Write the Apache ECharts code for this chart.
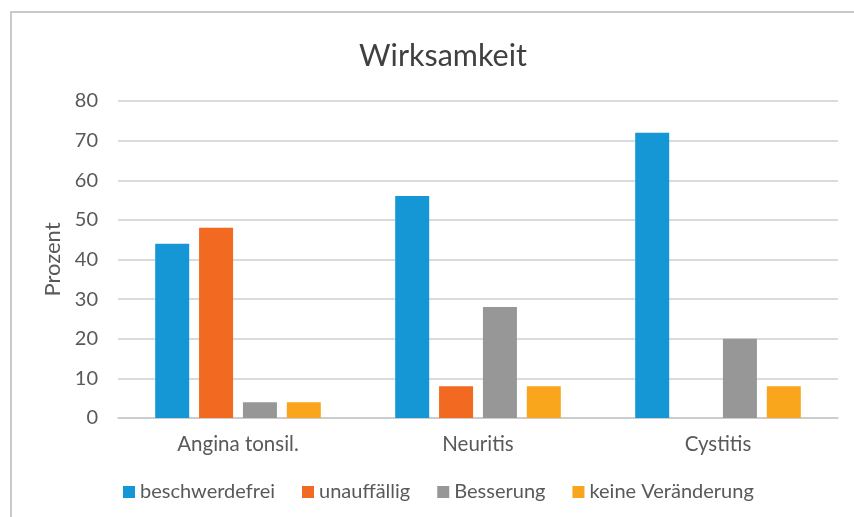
<!DOCTYPE html>
<html><head><meta charset="utf-8">
<script src="https://cdn.jsdelivr.net/npm/echarts@6/dist/echarts.min.js"></script>
<style>html,body{margin:0;padding:0;background:#fff}#c{width:854px;height:517px}</style>
</head><body><div id="c"></div>
<script>
const categories = ['Angina tonsil.', 'Neuritis', 'Cystitis'];
const seriesNames = ['beschwerdefrei', 'unauffällig', 'Besserung', 'keine Veränderung'];
const beschwerdefrei = [44, 56, 72];
const unauffaellig = [48, 8, 0];
const besserung = [4, 28, 20];
const keineVeraenderung = [4, 8, 8];
const colors = ['#1597d5', '#f26a22', '#979797', '#f9a61c'];
const values = [beschwerdefrei, unauffaellig, besserung, keineVeraenderung];
const font = 'Lato, "Open Sans", sans-serif';

const chart = echarts.init(document.getElementById('c'));
chart.setOption({
  animation: false,
  backgroundColor: '#fff',
  graphic: [{type:'rect', shape:{x:11, y:12, width:900, height:600}, style:{fill:'none', stroke:'#c9c9c9', lineWidth:2}}],
  title: {text:'Wirksamkeit', left:438, textAlign:'center', top:36, textStyle:{fontFamily:font, fontSize:30.5, fontWeight:'normal', color:'#404040'}},
  legend: {bottom:10, left:118, itemWidth:12, itemHeight:12, itemGap:27, icon:'rect',
    textStyle:{fontFamily:font, fontSize:20, color:'#595959'}, data: seriesNames},
  grid: {left:118, right:16, top:101, bottom:99},
  xAxis: {type:'category', data:categories, axisTick:{show:false},
    axisLine:{lineStyle:{color:'#c9c9c9', width:1.5}},
    axisLabel:{fontFamily:font, fontSize:20.5, color:'#595959', margin:16}},
  yAxis: {type:'value', min:0, max:80, interval:10, name:'Prozent', nameLocation:'middle', nameGap:54,
    nameTextStyle:{fontFamily:font, fontSize:22, color:'#595959'},
    axisLine:{show:false}, axisTick:{show:false},
    axisLabel:{fontFamily:font, fontSize:20, color:'#595959', margin:20},
    splitLine:{lineStyle:{color:'#cfcfcf', width:1.5}}},
  series: seriesNames.map((n,i)=>({name:n, type:'bar', data:values[i], itemStyle:{color:colors[i]},
    barGap:'29%', barCategoryGap:'31%'}))
});
</script></body></html>
